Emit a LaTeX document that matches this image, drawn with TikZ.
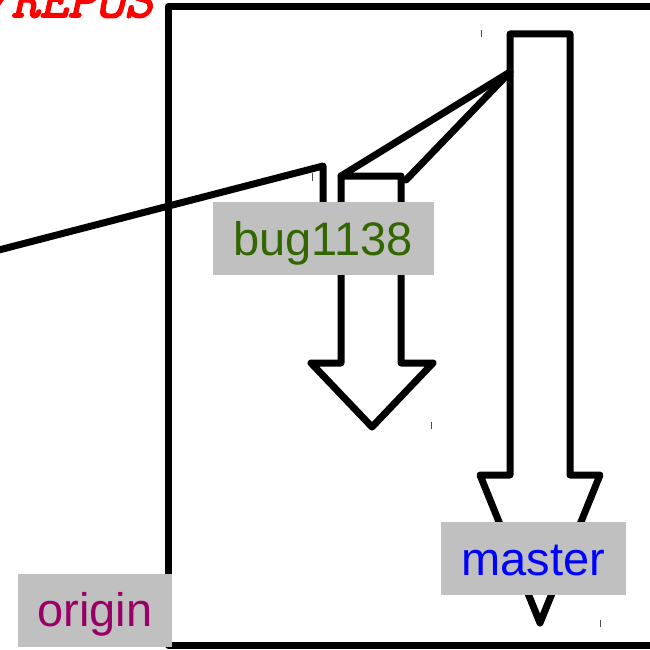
\documentclass[tikz,border=0pt]{standalone}
\usepackage{fontspec}
\setmainfont{Liberation Sans}
\newfontfamily\repofont[FakeBold=3,FakeSlant=0.22]{Latin Modern Mono}
\definecolor{labelgray}{HTML}{C0C0C0}
\definecolor{bugcolor}{HTML}{336600}
\definecolor{origincolor}{HTML}{990066}
\begin{document}
\begin{tikzpicture}[x=1pt,y=-1pt,
  heavy/.style={draw=black,line width=7pt,line join=round,line cap=round},
  tick/.style={draw=black!70,line width=1pt},
  branchlabel/.style={fill=labelgray,inner xsep=20pt,inner ysep=0pt,
    text height=53pt,text depth=20pt,font=\fontsize{47}{47}\selectfont}]
\useasboundingbox (0,0) rectangle (649,650);

% repository frame
\draw[heavy,line cap=butt] (700,6.5) -- (168,6.5) -- (168,645) -- (700,645);

% heading
\node[anchor=base east,inner sep=0pt,text=red,
  font=\repofont\fontsize{55}{55}\selectfont] (heading) at (153,17) {/REPOS};

% master branch arrow
\coordinate (mtl) at (510,34);
\coordinate (mtr) at (570,34);
\coordinate (mjoin) at (510,72);
\draw[heavy,fill=white] (mtl) -- (mtr) -- (570,475) -- (600,475) -- (540,623)
  -- (480,475) -- (510,475) -- cycle;

% bug1138 branch arrow
\coordinate (btl) at (341,176);
\coordinate (btr) at (401,176);
\coordinate (bside) at (406,180);
\draw[heavy,fill=white] (btl) -- (btr) -- (401,363) -- (433,363) -- (372,427)
  -- (311,363) -- (341,363) -- cycle;

% links between branches
\coordinate (farleft) at (-5,251);
\coordinate (bend) at (323,166);
\coordinate (drop) at (323,230);
\draw[heavy] (farleft) -- (bend) -- (drop);
\draw[heavy] (btl) -- (mjoin);
\draw[heavy] (bside) -- (mjoin);

% small marks
\draw[tick] (481,30) -- (481,37);
\draw[tick] (312,173) -- (312,181);
\draw[tick] (431,422) -- (431,429);
\draw[tick] (600,620) -- (600,627);

% branch labels
\node[branchlabel,text=bugcolor,minimum width=221pt] (bug) at (323,238.5) {bug1138};
\node[branchlabel,text=blue,minimum width=185pt] (master) at (533.5,558.5) {master};
\node[branchlabel,text=origincolor,minimum width=154pt] (origin) at (95,610) {origin};
\end{tikzpicture}
\end{document}
